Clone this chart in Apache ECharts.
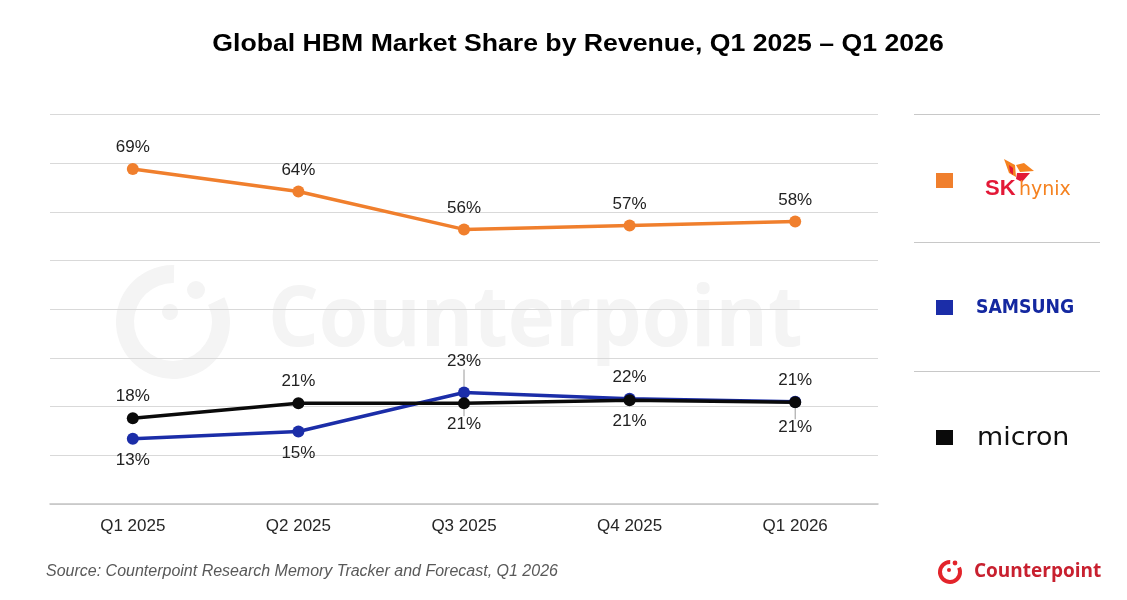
<!DOCTYPE html>
<html><head><meta charset="utf-8">
<script src="https://cdn.jsdelivr.net/npm/echarts@6/dist/echarts.min.js"></script>
<style>html,body{margin:0;padding:0;background:#fff}#c{width:1127px;height:600px}</style>
</head><body><div id="c"></div>
<script>
const categories = ['Q1 2025', 'Q2 2025', 'Q3 2025', 'Q4 2025', 'Q1 2026'];
const skHynix = [68.8, 64.2, 56.4, 57.2, 58.0];
const samsung = [13.4, 14.9, 22.9, 21.6, 21.0];
const micron = [17.6, 20.7, 20.7, 21.3, 20.9];
const yMin = 0, yMax = 80, yStep = 10;
const samsungLabelPos = ['bottom', 'bottom', 'top', 'top', 'top'];
const micronLabelPos = ['top', 'top', 'bottom', 'bottom', 'bottom'];
const samsungLabelShift = [0, 0, -10, 0, 0];
const micronLabelShift = [0, 0, 0, 0, 4];
const samsungLeader = [false, false, true, false, false];
const micronLeader = [false, false, true, false, true];

const FONT = '"Liberation Sans", Arial, sans-serif';
const COLORS = { sk: '#F07F2D', samsung: '#1B2DA8', micron: '#0A0A0A' };

function build(values, pos, leader) {
  return values.map((v, i) => ({
    value: v,
    label: { position: pos ? pos[i] : 'top' },
    labelLine: { show: leader ? leader[i] : false, lineStyle: { color: '#9a9a9a', width: 1 } }
  }));
}
function makeSeries(name, values, color, pos, shift, leader, z) {
  return {
    name, type: 'line', data: build(values, pos, leader), z,
    symbol: 'circle', symbolSize: 12,
    itemStyle: { color },
    lineStyle: { color, width: 3.5 },
    label: {
      show: true, distance: 7, color: '#222', fontSize: 17, fontFamily: FONT,
      formatter: p => Math.round(p.value) + '%'
    },
    labelLayout: shift ? (p => ({ dy: shift[p.dataIndex] })) : undefined,
    emphasis: { disabled: true },
    animation: false
  };
}

const chart = echarts.init(document.getElementById('c'), null, { renderer: 'canvas' });
const wm = '#f4f4f4';
chart.setOption({
  backgroundColor: '#ffffff',
  animation: false,
  grid: { left: 50, right: 249, top: 114.5, bottom: 96 },
  xAxis: {
    type: 'category', data: categories, boundaryGap: true,
    axisLine: { show: true, lineStyle: { color: '#c4c4c4', width: 1.5 } },
    axisTick: { show: false },
    axisLabel: { color: '#262626', fontSize: 17, fontFamily: FONT, margin: 14 }
  },
  yAxis: {
    type: 'value', min: yMin, max: yMax, interval: yStep,
    axisLine: { show: false }, axisTick: { show: false }, axisLabel: { show: false },
    splitLine: { lineStyle: { color: '#d9d9d9', width: 1.2 } }
  },
  series: [
    makeSeries('SK hynix', skHynix, COLORS.sk, null, null, null, 3),
    makeSeries('Samsung', samsung, COLORS.samsung, samsungLabelPos, samsungLabelShift, samsungLeader, 4),
    makeSeries('Micron', micron, COLORS.micron, micronLabelPos, micronLabelShift, micronLeader, 5)
  ],
  graphic: [
    // watermark
    { type: 'sector', z: -10, silent: true, shape: { cx: 173, cy: 322, r: 57, r0: 39, startAngle: -0.45, endAngle: 2 * Math.PI - 1.55, clockwise: true }, style: { fill: wm } },
    { type: 'circle', z: -10, silent: true, shape: { cx: 170, cy: 312, r: 8 }, style: { fill: wm } },
    { type: 'circle', z: -10, silent: true, shape: { cx: 196, cy: 290, r: 9 }, style: { fill: wm } },
    { type: 'text', z: -10, silent: true, x: 268, y: 322, scaleX: 0.95, style: { text: 'Counterpoint', x: 0, y: 0, fill: wm, font: 'bold 84px "Open Sans", sans-serif', textVerticalAlign: 'middle' } },
    // title
    { type: 'text', x: 578, y: 44, scaleX: 1.11, style: { text: 'Global HBM Market Share by Revenue, Q1 2025 \u2013 Q1 2026', x: 0, y: 0, textAlign: 'center', textVerticalAlign: 'middle', fill: '#000', font: 'bold 24px ' + FONT } },
    // legend separators
    { type: 'line', shape: { x1: 914, y1: 114.5, x2: 1100, y2: 114.5 }, style: { stroke: '#c8c8c8', lineWidth: 1.2 } },
    { type: 'line', shape: { x1: 914, y1: 242.5, x2: 1100, y2: 242.5 }, style: { stroke: '#c8c8c8', lineWidth: 1.2 } },
    { type: 'line', shape: { x1: 914, y1: 371.5, x2: 1100, y2: 371.5 }, style: { stroke: '#c8c8c8', lineWidth: 1.2 } },
    // legend squares
    { type: 'rect', shape: { x: 936, y: 173, width: 17, height: 15 }, style: { fill: COLORS.sk } },
    { type: 'rect', shape: { x: 936, y: 300, width: 17, height: 15 }, style: { fill: COLORS.samsung } },
    { type: 'rect', shape: { x: 936, y: 430, width: 17, height: 15 }, style: { fill: COLORS.micron } },
    // SK hynix logo
    { type: 'polygon', shape: { points: [[1004, 159], [1015, 165], [1016, 177], [1009, 173]] }, style: { fill: '#F58220' } },
    { type: 'polygon', shape: { points: [[1016, 165], [1024, 163], [1034, 171], [1020, 172]] }, style: { fill: '#F58220' } },
    { type: 'polygon', shape: { points: [[1017, 173], [1030, 173], [1022, 182], [1016, 179]] }, style: { fill: '#E31937' } },
    { type: 'polygon', shape: { points: [[1009, 165], [1013, 168], [1013, 175], [1010, 172]] }, style: { fill: '#E31937' } },
    { type: 'text', style: { text: 'SK', x: 985, y: 189, textVerticalAlign: 'middle', fill: '#E31937', font: 'bold 22px ' + FONT } },
    { type: 'text', style: { text: 'hynix', x: 1019, y: 190, textVerticalAlign: 'middle', fill: '#F58220', font: '19px "DejaVu Sans", sans-serif' } },
    // Samsung logo
    { type: 'text', x: 976, y: 308, scaleX: 0.91, style: { text: 'SAMSUNG', x: 0, y: 0, textVerticalAlign: 'middle', fill: '#1428A0', font: 'bold 19px "DejaVu Sans", sans-serif' } },
    // Micron logo
    { type: 'text', x: 977, y: 439, scaleX: 1.12, style: { text: 'micron', x: 0, y: 0, textVerticalAlign: 'middle', fill: '#111', font: '24px "DejaVu Sans", sans-serif' } },
    // source
    { type: 'text', style: { text: 'Source: Counterpoint Research Memory Tracker and Forecast, Q1 2026', x: 46, y: 572, textVerticalAlign: 'middle', fill: '#595959', font: 'italic 16px ' + FONT } },
    // counterpoint logo
    { type: 'sector', shape: { cx: 950, cy: 572, r: 12, r0: 8, startAngle: -0.45, endAngle: 2 * Math.PI - 1.55, clockwise: true }, style: { fill: '#E3242B' } },
    { type: 'circle', shape: { cx: 949, cy: 570, r: 2 }, style: { fill: '#E3242B' } },
    { type: 'circle', shape: { cx: 955, cy: 563, r: 2.4 }, style: { fill: '#E3242B' } },
    { type: 'text', style: { text: 'Counterpoint', x: 974, y: 572, textVerticalAlign: 'middle', fill: '#C8202F', font: 'bold 19px "Open Sans", sans-serif' } }
  ]
});
</script></body></html>
